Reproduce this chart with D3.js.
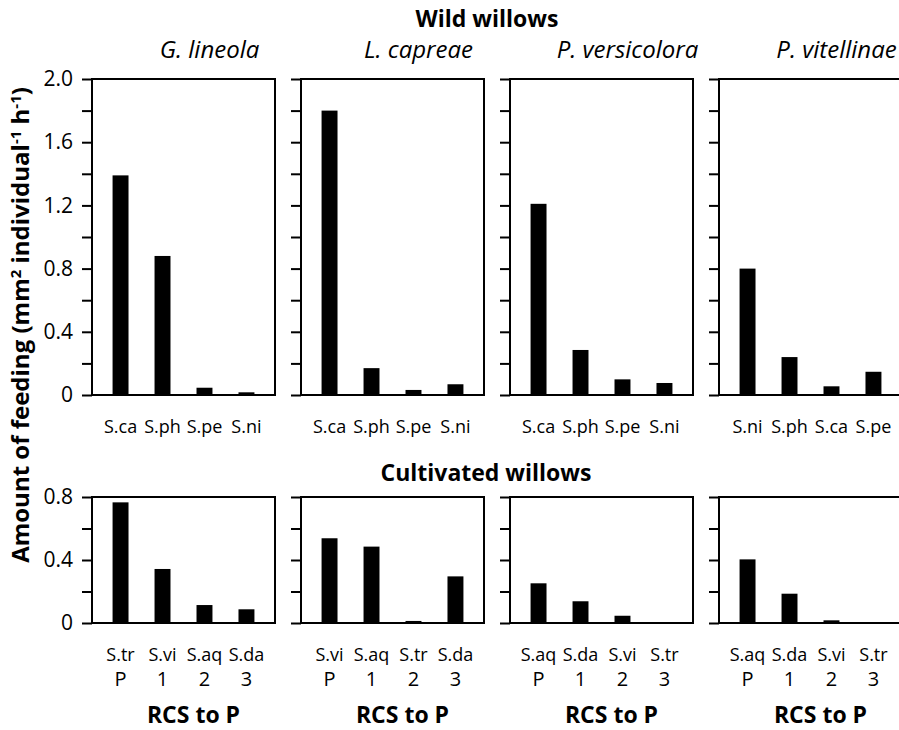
<!doctype html>
<html>
<head>
<meta charset="UTF-8">
<title>Willow feeding</title>
<script src="https://cdn.jsdelivr.net/npm/d3@7"></script>
<style>
  body { margin: 0; background: #fff; }
  svg text { font-family: "Open Sans", sans-serif; fill: #000; }
</style>
</head>
<body>
<svg id="chart" width="899" height="730"></svg>
<script>
// ---- data ----
var beetles = ["G. lineola", "L. capreae", "P. versicolora", "P. vitellinae"];

var wildCats = [
  ["S.ca", "S.ph", "S.pe", "S.ni"],
  ["S.ca", "S.ph", "S.pe", "S.ni"],
  ["S.ca", "S.ph", "S.pe", "S.ni"],
  ["S.ni", "S.ph", "S.ca", "S.pe"]
];
var wildValues = [
  [1.39, 0.88, 0.046, 0.017],
  [1.80, 0.17, 0.032, 0.068],
  [1.21, 0.285, 0.099, 0.076],
  [0.80, 0.24, 0.055, 0.147]
];

var cultCats = [
  ["S.tr", "S.vi", "S.aq", "S.da"],
  ["S.vi", "S.aq", "S.tr", "S.da"],
  ["S.aq", "S.da", "S.vi", "S.tr"],
  ["S.aq", "S.da", "S.vi", "S.tr"]
];
var cultValues = [
  [0.766, 0.343, 0.114, 0.087],
  [0.538, 0.485, 0.013, 0.296],
  [0.252, 0.138, 0.046, 0],
  [0.404, 0.186, 0.017, 0]
];

var rcsLabels = ["P", "1", "2", "3"];
var wildTicks = [0, 0.2, 0.4, 0.6, 0.8, 1.0, 1.2, 1.4, 1.6, 1.8, 2.0];
var wildTickLabels = [0, 0.4, 0.8, 1.2, 1.6, 2.0];
var cultTicks = [0, 0.2, 0.4, 0.6, 0.8];
var cultTickLabels = [0, 0.4, 0.8];

// ---- layout ----
var svg = d3.select("#chart");
var panelW = 183;

var px = d3.scaleLinear().domain([0, 1]).range([92, 301]); // left edge of panel i

var yWild = d3.scaleLinear().domain([0, 2]).range([395, 79]);
var yCult = d3.scaleLinear().domain([0, 0.8]).range([623, 497]);

var xb = d3.scaleBand()
  .domain([0, 1, 2, 3])
  .range([0, panelW])
  .paddingInner(0.62)
  .paddingOuter(0.49);

function fmt(v) { return v === 0 ? "0" : d3.format(".1f")(v); }

function drawPanel(i, cats, vals, y, ticks, labels, labelY) {
  var g = svg.append("g").attr("transform", "translate(" + px(i) + ",0)");

  var axis = d3.axisLeft(y)
    .tickValues(ticks)
    .tickSize(10)
    .tickPadding(9)
    .tickFormat(function(d) {
      if (i > 0) return "";
      return labels.some(function(l) { return Math.abs(l - d) < 1e-9; }) ? fmt(d) : "";
    });

  var ax = g.append("g").call(axis);
  ax.select(".domain").remove();
  ax.selectAll("line").attr("stroke", "#000").attr("stroke-width", 2);
  ax.selectAll("text")
    .style("font-family", "'Open Sans', sans-serif")
    .style("font-size", "21px")
    .attr("fill", "#000");

  // frame
  g.append("rect")
    .attr("x", 0)
    .attr("y", y.range()[1])
    .attr("width", panelW)
    .attr("height", y.range()[0] - y.range()[1])
    .attr("fill", "none")
    .attr("stroke", "#000")
    .attr("stroke-width", 2);

  g.selectAll(".bar")
    .data(vals)
    .enter().append("rect")
    .attr("class", "bar")
    .attr("x", function(d, j) { return xb(j); })
    .attr("width", xb.bandwidth())
    .attr("y", function(d) { return y(d); })
    .attr("height", function(d) { return y(0) - y(d); })
    .attr("fill", "#000");

  g.selectAll(".cat")
    .data(cats)
    .enter().append("text")
    .attr("class", "cat")
    .attr("x", function(d, j) { return xb(j) + xb.bandwidth() / 2; })
    .attr("y", labelY)
    .attr("text-anchor", "middle")
    .style("font-size", "18px")
    .text(function(d) { return d; });

  return g;
}

// wild willows
beetles.forEach(function(b, i) {
  drawPanel(i, wildCats[i], wildValues[i], yWild, wildTicks, wildTickLabels, 433);
  svg.append("text")
    .attr("x", px(i) + panelW / 2 + 26)
    .attr("y", 58)
    .attr("text-anchor", "middle")
    .style("font-size", "24px")
    .style("font-style", "italic")
    .text(b);
});

// cultivated willows
beetles.forEach(function(b, i) {
  var g = drawPanel(i, cultCats[i], cultValues[i], yCult, cultTicks, cultTickLabels, 661);
  g.selectAll(".rcs")
    .data(rcsLabels)
    .enter().append("text")
    .attr("class", "rcs")
    .attr("x", function(d, j) { return xb(j) + xb.bandwidth() / 2; })
    .attr("y", 686)
    .attr("text-anchor", "middle")
    .style("font-size", "20px")
    .text(function(d) { return d; });
  g.append("text")
    .attr("x", panelW / 2 + 10)
    .attr("y", 723)
    .attr("text-anchor", "middle")
    .style("font-size", "23px")
    .style("font-weight", "bold")
    .text("RCS to P");
});

// group headings
svg.append("text")
  .attr("x", 487).attr("y", 27)
  .attr("text-anchor", "middle")
  .style("font-size", "23px").style("font-weight", "bold")
  .text("Wild willows");

svg.append("text")
  .attr("x", 486).attr("y", 481)
  .attr("text-anchor", "middle")
  .style("font-size", "23px").style("font-weight", "bold")
  .text("Cultivated willows");

// y axis title
var yt = svg.append("text")
  .attr("transform", "translate(29,325) rotate(-90)")
  .attr("text-anchor", "middle")
  .style("font-size", "24px")
  .style("font-weight", "bold");
yt.append("tspan").text("Amount of feeding (mm");
yt.append("tspan").attr("dy", -8).style("font-size", "15px").text("2");
yt.append("tspan").attr("dy", 8).text(" individual");
yt.append("tspan").attr("dy", -8).style("font-size", "15px").text("-1");
yt.append("tspan").attr("dy", 8).text(" h");
yt.append("tspan").attr("dy", -8).style("font-size", "15px").text("-1");
yt.append("tspan").attr("dy", 8).text(")");
</script>
</body>
</html>
